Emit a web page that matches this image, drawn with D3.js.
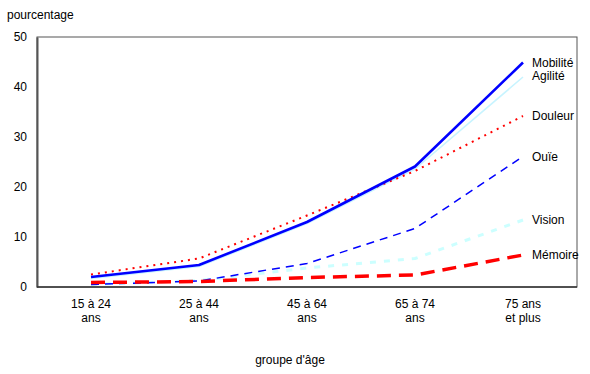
<!DOCTYPE html>
<html>
<head>
<meta charset="utf-8">
<script src="https://cdn.jsdelivr.net/npm/d3@7"></script>
<style>
  body { margin: 0; background: #fff; }
  text { font-family: "Liberation Sans", Arial, sans-serif; fill: #000; }
</style>
</head>
<body>
<div id="chart"></div>
<script>
// age groups (two-line tick labels)
const categories = ["15 à 24 ans", "25 à 44 ans", "45 à 64 ans", "65 à 74 ans", "75 ans et plus"];
const tickLines = [["15 à 24", "ans"], ["25 à 44", "ans"], ["45 à 64", "ans"], ["65 à 74", "ans"], ["75 ans", "et plus"]];
const yTicks = [0, 10, 20, 30, 40, 50];

// series values (percent)
const agilite = [1.7, 4.1, 12.7, 23.6, 42.0];
const vision = [0.5, 1.3, 3.8, 5.7, 13.4];
const ouie = [0.5, 1.2, 4.7, 11.7, 26.1];
const memoire = [0.9, 1.1, 1.9, 2.4, 6.4];
const douleur = [2.5, 5.7, 14.3, 23.2, 34.2];
const mobilite = [2.0, 4.4, 13.0, 24.1, 44.9];

const seriesNames = ["Agilité", "Vision", "Ouïe", "Mémoire", "Douleur", "Mobilité"];
const seriesValues = [agilite, vision, ouie, memoire, douleur, mobilite];

// line look per series
const styleOf = {
  "Agilité": { color: "#c8f4ff", width: 1.6, dash: null },
  "Vision": { color: "#ccffff", width: 3, dash: "6,8" },
  "Ouïe": { color: "#0000ff", width: 1.5, dash: "8,6" },
  "Mémoire": { color: "#ff0000", width: 3.5, dash: "14,8" },
  "Douleur": { color: "#ff0000", width: 2, dash: "2,5" },
  "Mobilité": { color: "#0000ff", width: 2.6, dash: null }
};

// label offsets so Mobilité / Agilité don't collide
const labelY = { "Mobilité": 62.5, "Agilité": 76 };

const width = 590, height = 374;
const margin = { top: 37, right: 13, bottom: 87, left: 37 };

const svg = d3.select("#chart").append("svg")
  .attr("width", width)
  .attr("height", height);

const x = d3.scaleBand()
  .domain(categories)
  .range([margin.left, width - margin.right]);

const y = d3.scaleLinear()
  .domain([0, 50])
  .range([height - margin.bottom, margin.top]);

const cx = (d) => x(d) + x.bandwidth() / 2;

// frame
svg.append("rect")
  .attr("x", margin.left)
  .attr("y", margin.top)
  .attr("width", width - margin.left - margin.right)
  .attr("height", height - margin.top - margin.bottom)
  .attr("fill", "none")
  .attr("stroke", "#555")
  .attr("stroke-width", 1);

// y axis ticks (labels only)
const yAxis = svg.append("g")
  .attr("transform", `translate(${margin.left},0)`)
  .call(d3.axisLeft(y).tickValues(yTicks).tickSize(0).tickPadding(10));
yAxis.select(".domain").attr("stroke", "#555").attr("stroke-width", 2);
yAxis.selectAll("text")
  .style("font-size", "12px")
  .style("font-family", "Liberation Sans, Arial, sans-serif");

// x axis line
svg.append("line")
  .attr("x1", margin.left)
  .attr("x2", width - margin.right)
  .attr("y1", y(0))
  .attr("y2", y(0))
  .attr("stroke", "#333")
  .attr("stroke-width", 1.5);

// x tick labels
const xLab = svg.append("g")
  .selectAll("text")
  .data(categories)
  .join("text")
  .attr("text-anchor", "middle")
  .attr("x", d => cx(d))
  .attr("y", 308)
  .style("font-size", "12px");
xLab.selectAll("tspan")
  .data((d, i) => tickLines[i])
  .join("tspan")
  .attr("x", function () { return d3.select(this.parentNode).attr("x"); })
  .attr("dy", (d, i) => i === 0 ? 0 : 14)
  .text(d => d);

// axis titles
svg.append("text")
  .attr("x", 7)
  .attr("y", 19)
  .style("font-size", "12px")
  .text("pourcentage");

svg.append("text")
  .attr("x", 290)
  .attr("y", 364)
  .attr("text-anchor", "middle")
  .style("font-size", "12px")
  .text("groupe d'âge");

// lines
const line = d3.line()
  .x((d, i) => cx(categories[i]))
  .y(d => y(d));

seriesNames.forEach((name, k) => {
  const s = styleOf[name];
  svg.append("path")
    .datum(seriesValues[k])
    .attr("d", line)
    .attr("fill", "none")
    .attr("stroke", s.color)
    .attr("stroke-width", s.width)
    .attr("stroke-dasharray", s.dash)
    .attr("stroke-linejoin", "round");
});

// end labels
seriesNames.forEach((name, k) => {
  const vals = seriesValues[k];
  const yy = labelY[name] !== undefined ? labelY[name] : y(vals[vals.length - 1]);
  svg.append("text")
    .attr("x", 532)
    .attr("y", yy)
    .attr("dy", "0.35em")
    .style("font-size", "12px")
    .text(name);
});
</script>
</body>
</html>
